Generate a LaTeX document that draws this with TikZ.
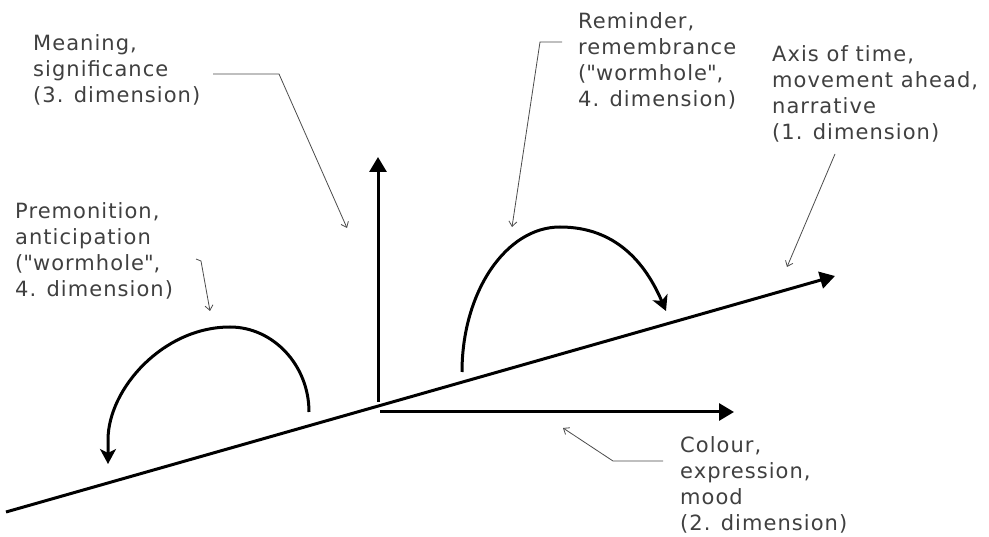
\documentclass[tikz,border=0pt]{standalone}
\usepackage{fontspec}
\setmainfont{DejaVu Sans}[LetterSpace=5]
\usetikzlibrary{arrows.meta}
\tikzset{
  mainaxis/.style={line width=3pt, -{Triangle[length=15pt,width=17pt]}},
  hoparrow/.style={line width=3pt, -{Stealth[length=15pt,width=16pt,inset=4pt]}},
  callout/.style={line width=0.8pt, black!70, -{Straight Barb[length=5pt,width=8pt]}},
  lbl/.style={anchor=base west, align=left, inner sep=0pt, font=\fontsize{21}{26}\selectfont, text=black!75}
}
\begin{document}
\begin{tikzpicture}[x=1pt,y=-1pt]
\useasboundingbox[fill=white] (0,0) rectangle (989,537);
% axes
\coordinate (tstart) at (6,512);
\coordinate (tend) at (835,276);
\coordinate (vbot) at (378,402);
\coordinate (vtop) at (378,157);
\coordinate (hstart) at (380,412);
\coordinate (hend) at (734,412);
\draw[mainaxis] (tstart) -- (tend);
\draw[mainaxis] (vbot) -- (vtop);
\draw[mainaxis] (hstart) -- (hend);
% jumps
\coordinate (la) at (309,412);
\coordinate (lb) at (230,327);
\coordinate (lc) at (108,440);
\coordinate (ld) at (108,464);
\draw[hoparrow] (la) .. controls (309,365) and (273,327) .. (lb)
  .. controls (163,327) and (108,389) .. (lc) -- (ld);
\coordinate (ra) at (462,372);
\coordinate (rb) at (560,227);
\coordinate (rc) at (666,311);
\draw[hoparrow] (ra) .. controls (462,292) and (506,227) .. (rb)
  .. controls (615,227) and (645,262) .. (rc);
% labels (base anchor = last line)
\node[lbl] (meaning) at (33,103) {Meaning,\\significance\\(3. dimension)};
\node[lbl] (premon) at (15,297) {Premonition,\\anticipation\\(\textquotedbl wormhole\textquotedbl,\\4. dimension)};
\node[lbl] (remind) at (578,107) {Reminder,\\remembrance\\(\textquotedbl wormhole\textquotedbl,\\4. dimension)};
\node[lbl] (axis) at (772,140) {Axis of time,\\movement ahead,\\narrative\\(1. dimension)};
\node[lbl] (colour) at (680,530) {Colour,\\expression,\\mood\\(2. dimension)};
% callouts
\coordinate (m1) at (213,74); \coordinate (m2) at (279,74); \coordinate (m3) at (347,228);
\draw[callout] (m1) -- (m2) -- (m3);
\coordinate (p1) at (196,259); \coordinate (p2) at (201,261); \coordinate (p3) at (210,311);
\draw[callout] (p1) -- (p2) -- (p3);
\coordinate (r1) at (562,42); \coordinate (r2) at (540,42); \coordinate (r3) at (512,227);
\draw[callout] (r1) -- (r2) -- (r3);
\coordinate (a1) at (835,154); \coordinate (a2) at (787,267);
\draw[callout] (a1) -- (a2);
\coordinate (c1) at (663,461); \coordinate (c2) at (613,461); \coordinate (c3) at (563,428);
\draw[callout] (c1) -- (c2) -- (c3);
\end{tikzpicture}
\end{document}
